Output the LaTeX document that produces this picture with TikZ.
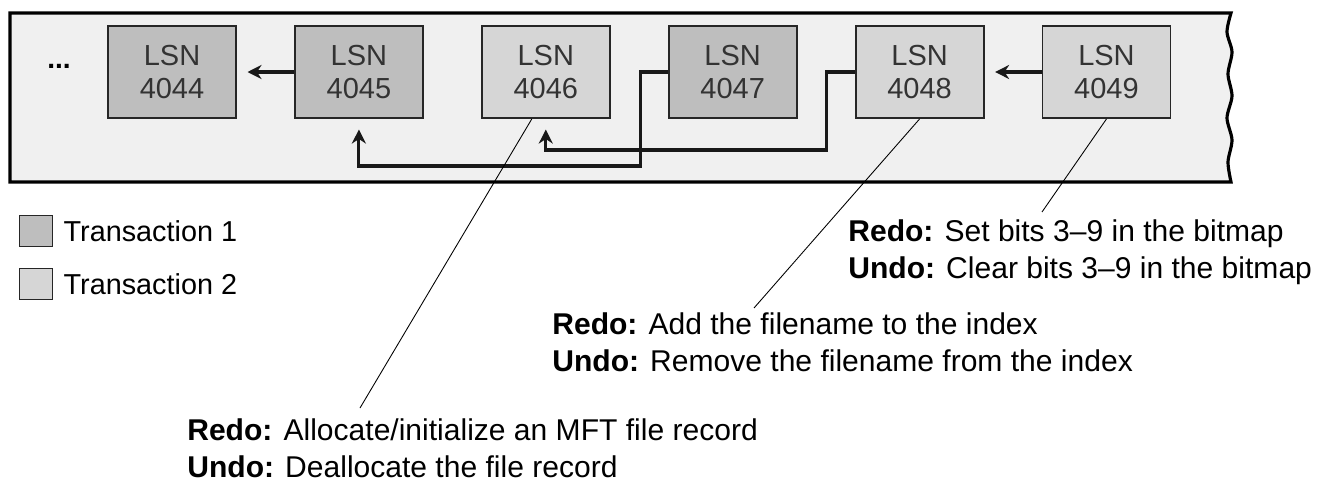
\documentclass[tikz,border=0pt]{standalone}
\usepackage{fontspec}
\setmainfont{Liberation Sans}
\usetikzlibrary{positioning, arrows.meta}

\definecolor{bandgray}{RGB}{240,240,240}
\definecolor{txonegray}{RGB}{190,190,190}
\definecolor{txtwogray}{RGB}{214,214,214}

\begin{document}
\begin{tikzpicture}[
		x=0.02cm, y=-0.02cm,
		lsn/.style={draw=black!85,line width=1.1pt,minimum width=2.56cm,minimum height=1.84cm,inner sep=0pt,align=center,text=black!80,font=\fontsize{16.5}{18.5}\selectfont},
		txone/.style={lsn,fill=txonegray},
		txtwo/.style={lsn,fill=txtwogray},
		link/.style={line width=1.8pt,draw=black!90,-{Stealth[length=8pt,width=8pt]},shorten >=6pt},
		callout/.style={line width=0.5pt},
		note/.style={anchor=base west,inner sep=0pt,align=left,font=\fontsize{17.1}{20.5}\selectfont},
		legbox/.style={draw=black!85,line width=0.9pt,minimum width=0.66cm,minimum height=0.62cm,inner sep=0pt},
		legtext/.style={inner sep=0pt,font=\fontsize{16.4}{20}\selectfont}
		]
		
		\useasboundingbox (0,0) rectangle (1319,484);
		
		% Log file band
		\draw[line width=1.8pt,fill=bandgray] (10,13) -- plot[smooth] coordinates {(1231,13) (1227,32) (1232,52) (1228,74) (1232,96) (1227,118) (1232,140) (1228,162) (1231,182)} -- (10,182) -- cycle;
		\node[font=\bfseries\fontsize{16}{16}\selectfont] (dots) at (59,66) {...};
		
		% Log records
		\node[txone] (b4044) at (172,72) {LSN\\4044};
		\node[txone,right=1.14cm of b4044] (b4045) {LSN\\4045};
		\node[txtwo,right=1.14cm of b4045] (b4046) {LSN\\4046};
		\node[txone,right=1.14cm of b4046] (b4047) {LSN\\4047};
		\node[txtwo,right=1.14cm of b4047] (b4048) {LSN\\4048};
		\node[txtwo,right=1.14cm of b4048] (b4049) {LSN\\4049};
		
		% Backward chains
		\draw[link] (b4045) -- (b4044);
		\draw[link] (b4049) -- (b4048);
		\draw[link] (b4047.west) -- ++(-27,0) |- ([yshift=-0.94cm]b4045.south) -- (b4045.south);
		\draw[link] (b4048.west) -- ++(-28,0) |- ([yshift=-0.62cm]b4046.south) -- (b4046.south);
		
		% Legend
		\node[legbox,fill=txonegray] (leg1) at (36,231) {};
		\node[legbox,fill=txtwogray] (leg2) at (36,284) {};
		\node[legtext,right=0.2cm of leg1] (legtext1) {Transaction 1};
		\node[legtext,right=0.2cm of leg2] (legtext2) {Transaction 2};
		
		% Redo/undo notes (anchored on the last line)
		\node[note] (noteA) at (187,477) {\textbf{Redo:} Allocate/initialize an MFT file record\\\textbf{Undo:} Deallocate the file record};
		\node[note] (noteB) at (552,371) {\textbf{Redo:} Add the filename to the index\\\textbf{Undo:} Remove the filename from the index};
		\node[note] (noteC) at (848,278) {\textbf{Redo:} Set bits 3–9 in the bitmap\\\textbf{Undo:} Clear bits 3–9 in the bitmap};
		
		% Callout lines
		\coordinate (endA) at (360,408);
		\coordinate (endB) at (754,308);
		\coordinate (endC) at (1042,212);
		\draw[callout] ([xshift=-0.28cm]b4046.south) -- (endA);
		\draw[callout] (b4048.south) -- (endB);
		\draw[callout] (b4049.south) -- (endC);
		
	\end{tikzpicture}
\end{document}
